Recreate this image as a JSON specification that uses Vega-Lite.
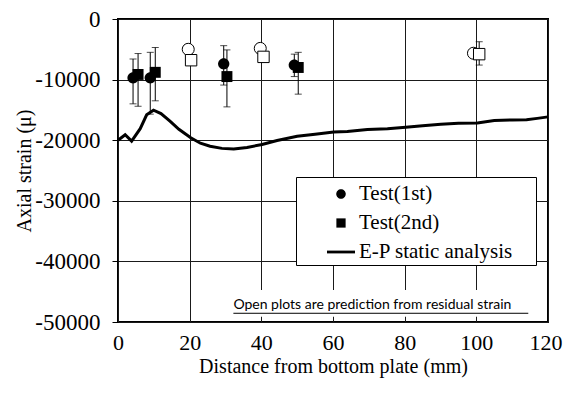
{
  "$schema": "https://vega.github.io/schema/vega-lite/v6.json",
  "autosize": "none",
  "width": 430,
  "height": 303,
  "padding": {"left": 118, "top": 19, "right": 15, "bottom": 72},
  "background": "white",
  "datasets": {
    "tests": [
      {"dist": 4.2, "strain": -9700, "lo": -14000, "hi": -6600, "series": "Test(1st)", "kind": "test"},
      {"dist": 9.0, "strain": -9700, "lo": -15700, "hi": -5500, "series": "Test(1st)", "kind": "test"},
      {"dist": 29.5, "strain": -7400, "lo": -10900, "hi": -4400, "series": "Test(1st)", "kind": "test"},
      {"dist": 49.2, "strain": -7600, "lo": -9500, "hi": -5800, "series": "Test(1st)", "kind": "test"},
      {"dist": 5.6, "strain": -9150, "lo": -14400, "hi": -5700, "series": "Test(2nd)", "kind": "test"},
      {"dist": 10.4, "strain": -8800, "lo": -13500, "hi": -4700, "series": "Test(2nd)", "kind": "test"},
      {"dist": 30.4, "strain": -9500, "lo": -14500, "hi": -5100, "series": "Test(2nd)", "kind": "test"},
      {"dist": 50.3, "strain": -8000, "lo": -12400, "hi": -5500, "series": "Test(2nd)", "kind": "test"},
      {"dist": 19.6, "strain": -5000, "lo": null, "hi": null, "series": "Test(1st)", "kind": "prediction"},
      {"dist": 39.7, "strain": -4850, "lo": null, "hi": null, "series": "Test(1st)", "kind": "prediction"},
      {"dist": 99.2, "strain": -5650, "lo": null, "hi": null, "series": "Test(1st)", "kind": "prediction"},
      {"dist": 20.4, "strain": -6800, "lo": null, "hi": null, "series": "Test(2nd)", "kind": "prediction"},
      {"dist": 40.6, "strain": -6250, "lo": null, "hi": null, "series": "Test(2nd)", "kind": "prediction"},
      {"dist": 100.8, "strain": -5800, "lo": -7600, "hi": -3750, "series": "Test(2nd)", "kind": "prediction"}
    ],
    "analysis": [
      {"dist": 0, "strain": -20000},
      {"dist": 2.0, "strain": -19100},
      {"dist": 3.8, "strain": -20150},
      {"dist": 6.2, "strain": -18100},
      {"dist": 8.0, "strain": -15800},
      {"dist": 9.9, "strain": -15050},
      {"dist": 12, "strain": -15600},
      {"dist": 14.5, "strain": -16850},
      {"dist": 17, "strain": -18200},
      {"dist": 20.3, "strain": -19600},
      {"dist": 23, "strain": -20500},
      {"dist": 25.7, "strain": -21000},
      {"dist": 29, "strain": -21350},
      {"dist": 32.3, "strain": -21450},
      {"dist": 36, "strain": -21200},
      {"dist": 40.2, "strain": -20700},
      {"dist": 44.4, "strain": -20050},
      {"dist": 50, "strain": -19350},
      {"dist": 55, "strain": -19000},
      {"dist": 60.2, "strain": -18650},
      {"dist": 64, "strain": -18570},
      {"dist": 69.6, "strain": -18250},
      {"dist": 75.2, "strain": -18130},
      {"dist": 80.3, "strain": -17860},
      {"dist": 85, "strain": -17600},
      {"dist": 90.1, "strain": -17380},
      {"dist": 95, "strain": -17200},
      {"dist": 100.3, "strain": -17150},
      {"dist": 105, "strain": -16750},
      {"dist": 110, "strain": -16650},
      {"dist": 114, "strain": -16620},
      {"dist": 117, "strain": -16400},
      {"dist": 120, "strain": -16150}
    ]
  },
  "layer": [
    {
      "data": {"values": [{}]},
      "mark": {"type": "rect", "fill": "white"},
      "encoding": {
        "x": {"datum": 31.3, "type": "quantitative", "scale": {"domain": [0, 120], "nice": false}, "title": "Distance  from bottom plate (mm)",
              "axis": {"values": [0, 20, 40, 60, 80, 100, 120], "domain": false, "ticks": false, "grid": true,
                       "gridColor": "#1a1a1a", "gridWidth": 1, "gridOpacity": 1,
                       "labelFont": "Liberation Serif", "labelFontSize": 22, "labelColor": "black", "labelPadding": 10,
                       "labelAlign": {"condition": {"test": "datum.value == 120", "value": "right"}, "value": "center"},
                       "labelOffset": {"condition": {"test": "datum.value == 120", "value": 14}, "value": 0},
                       "labelFlush": false, "labelOverlap": false,
                       "titleFont": "Liberation Serif", "titleFontSize": 20, "titleFontWeight": "normal", "titleColor": "black",
                       "titleY": 50, "titleBaseline": "alphabetic"}},
        "x2": {"datum": 115},
        "y": {"datum": -44720, "type": "quantitative", "scale": {"domain": [-50000, 0], "nice": false}, "title": "Axial strain  (μ)",
              "axis": {"values": [0, -10000, -20000, -30000, -40000, -50000],
                       "labelExpr": "datum.value == 0 ? '0' : '-' + format(-datum.value, 'd')",
                       "domain": false, "ticks": true, "tickSize": 6, "tickColor": "black", "tickWidth": 1, "grid": true,
                       "gridColor": "#1a1a1a", "gridWidth": 1, "gridOpacity": 1,
                       "labelFont": "Liberation Serif", "labelFontSize": 23, "labelColor": "black", "labelPadding": 12,
                       "labelFlush": false, "labelOverlap": false,
                       "titleFont": "Liberation Serif", "titleFontSize": 20, "titleFontWeight": "normal", "titleColor": "black",
                       "titleX": -88, "titleBaseline": "alphabetic"}},
        "y2": {"datum": -49130}
      }
    },
    {
      "data": {"name": "analysis"},
      "mark": {"type": "line", "color": "black", "strokeWidth": 3},
      "encoding": {
        "x": {"field": "dist", "type": "quantitative", "title": "Distance  from bottom plate (mm)"},
        "y": {"field": "strain", "type": "quantitative", "title": "Axial strain  (μ)"}
      }
    },
    {
      "data": {"name": "tests"},
      "transform": [{"filter": "datum.lo != null"}],
      "mark": {"type": "errorbar", "ticks": {"size": 7, "color": "black"}, "color": "black", "thickness": 1},
      "encoding": {
        "x": {"field": "dist", "type": "quantitative", "title": "Distance  from bottom plate (mm)"},
        "y": {"field": "lo", "type": "quantitative", "title": "Axial strain  (μ)"},
        "y2": {"field": "hi"}
      }
    },
    {
      "data": {"name": "tests"},
      "transform": [{"filter": "datum.kind == 'prediction' && datum.series == 'Test(1st)'"}],
      "mark": {"type": "point", "shape": "circle", "filled": true, "fill": "white", "stroke": "black", "strokeWidth": 1, "size": 144, "opacity": 1},
      "encoding": {
        "x": {"field": "dist", "type": "quantitative", "title": "Distance  from bottom plate (mm)"},
        "y": {"field": "strain", "type": "quantitative", "title": "Axial strain  (μ)"}
      }
    },
    {
      "data": {"name": "tests"},
      "transform": [{"filter": "datum.kind == 'prediction' && datum.series == 'Test(2nd)'"}],
      "mark": {"type": "point", "shape": "square", "filled": true, "fill": "white", "stroke": "black", "strokeWidth": 1, "size": 130, "opacity": 1},
      "encoding": {
        "x": {"field": "dist", "type": "quantitative", "title": "Distance  from bottom plate (mm)"},
        "y": {"field": "strain", "type": "quantitative", "title": "Axial strain  (μ)"}
      }
    },
    {
      "data": {"name": "tests"},
      "transform": [{"filter": "datum.kind == 'test'"}],
      "mark": {"type": "point", "filled": true, "color": "black", "size": 1100, "opacity": 1},
      "encoding": {
        "x": {"field": "dist", "type": "quantitative", "title": "Distance  from bottom plate (mm)"},
        "y": {"field": "strain", "type": "quantitative", "title": "Axial strain  (μ)"},
        "shape": {
          "field": "series", "type": "nominal",
          "scale": {"domain": ["Test(1st)", "Test(2nd)", "E-P static analysis"],
                    "range": ["M0.34,0A0.34,0.34,0,1,1,-0.34,0A0.34,0.34,0,1,1,0.34,0Z",
                              "M-0.33,-0.33H0.33V0.33H-0.33Z",
                              "M-1,-0.1H1V0.1H-1Z"]},
          "legend": {
            "title": null, "orient": "none", "legendX": 178, "legendY": 158,
            "fillColor": "white", "strokeColor": "black", "padding": 3,
            "symbolOffset": 28, "symbolSize": 784, "labelOffset": 4, "rowPadding": 5,
            "symbolStrokeWidth": 0,
            "labelFont": "Liberation Serif", "labelFontSize": 21, "labelColor": "black",
            "labelLimit": 400,
            "labelExpr": "datum.label + '\u2009\u2800'",
            "symbolFillColor": "black"
          }
        }
      }
    },
    {
      "data": {"values": [{}]},
      "mark": {"type": "text", "text": "Open plots are prediction from residual strain", "font": "Lato", "fontSize": 14, "align": "left", "baseline": "alphabetic", "color": "black"},
      "encoding": {
        "x": {"datum": 32.2, "type": "quantitative"},
        "y": {"datum": -47900, "type": "quantitative"}
      }
    },
    {
      "data": {"values": [{}]},
      "mark": {"type": "rule", "color": "black", "strokeWidth": 1},
      "encoding": {
        "x": {"datum": 32.2, "type": "quantitative"},
        "x2": {"datum": 114.5},
        "y": {"datum": -48560, "type": "quantitative"}
      }
    }
  ],
  "config": {
    "font": "Liberation Serif",
    "view": {"stroke": "black", "strokeWidth": 2},
    "legend": {"strokeWidth": 1}
  }
}
